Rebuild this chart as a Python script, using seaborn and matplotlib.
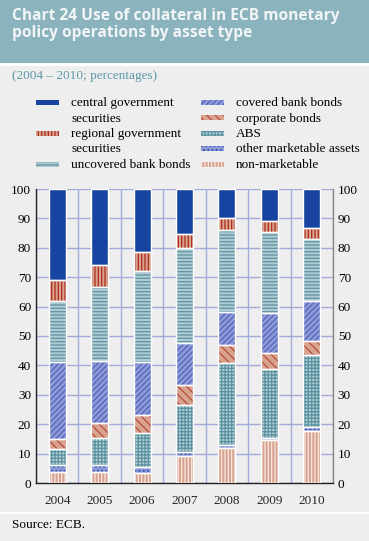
import matplotlib
matplotlib.use("Agg")
import numpy as np
import pandas as pd
import matplotlib.pyplot as plt
from matplotlib.patches import Rectangle
import seaborn as sns

# ---------------------------------------------------------------------------
# DATA (percent of collateral, bottom segment first)
# ---------------------------------------------------------------------------
YEARS = ["2004", "2005", "2006", "2007", "2008", "2009", "2010"]

NON_MARKETABLE = [3.6, 3.6, 3.4, 9.3, 11.9, 14.5, 17.8]
OTHER_MARKETABLE = [2.4, 2.5, 2.0, 1.4, 0.9, 0.8, 1.3]
ABS = [5.6, 9.2, 11.6, 15.9, 28.0, 23.5, 24.6]
CORPORATE = [3.4, 5.1, 6.2, 6.9, 6.3, 5.4, 4.7]
COVERED = [26.2, 21.0, 18.0, 14.1, 11.1, 13.6, 13.6]
UNCOVERED = [20.6, 25.3, 30.8, 32.3, 27.7, 27.5, 21.1]
REGIONAL = [7.4, 7.3, 6.6, 4.8, 4.1, 3.7, 3.8]
CENTRAL = [30.8, 26.0, 21.4, 15.3, 10.0, 11.0, 13.1]

SERIES = [
    ("non-marketable", NON_MARKETABLE),
    ("other marketable assets", OTHER_MARKETABLE),
    ("ABS", ABS),
    ("corporate bonds", CORPORATE),
    ("covered bank bonds", COVERED),
    ("uncovered bank bonds", UNCOVERED),
    ("regional government\nsecurities", REGIONAL),
    ("central government\nsecurities", CENTRAL),
]

# ---------------------------------------------------------------------------
# STYLE
# ---------------------------------------------------------------------------
SALMON = "#D8A28E"
LAVENDER = "#8E9BD6"
STYLE = {
    "non-marketable": (SALMON, "|||||", "#F6E8E2"),
    "other marketable assets": (LAVENDER, "....", "#2F4FB0"),
    "ABS": ("#B3CFD6", "+++++", "#5A919E"),
    "corporate bonds": (SALMON, "\\\\\\\\", "#B4503A"),
    "covered bank bonds": (LAVENDER, "//////", "#5264BE"),
    "uncovered bank bonds": ("#AFCAD2", "-----", "#5F94A1"),
    "regional government\nsecurities": (SALMON, "|||||", "#AE2B1C"),
    "central government\nsecurities": ("#1744A0", None, "#1744A0"),
}

BG = "#EEEEEE"
HEADER = "#8AB3BD"
GRID = "#A3AADC"
W, H = 369, 541

sns.set_style("white")
plt.rcParams["font.family"] = ["Liberation Serif", "DejaVu Serif"]
plt.rcParams["hatch.linewidth"] = 0.9


def px(x, y):
    return x / W, 1 - y / H


fig = plt.figure(figsize=(W / 100, H / 100), dpi=100, facecolor=BG)

# header band + separators
fig.add_artist(Rectangle(px(0, 63), 1, 63 / H, transform=fig.transFigure,
                         facecolor=HEADER, edgecolor="none"))
fig.add_artist(Rectangle(px(0, 66), 1, 3 / H, transform=fig.transFigure,
                         facecolor="white", edgecolor="none"))
fig.add_artist(Rectangle(px(0, 514), 1, 2.5 / H, transform=fig.transFigure,
                         facecolor="white", edgecolor="none"))

for i, line in enumerate(["Chart 24 Use of collateral in ECB monetary",
                          "policy operations by asset type"]):
    fig.text(*px(12, 20 + 17 * i), line, family=["Open Sans", "DejaVu Sans"],
             fontweight="bold", fontsize=11.2, color="#F2F5F6", va="baseline")

fig.text(*px(12, 79), "(2004 \u2013 2010; percentages)", fontsize=9.5,
         color="#5B98A8", va="baseline")
fig.text(*px(12, 528), "Source: ECB.", fontsize=9.5, color="black", va="baseline")

# ---------------------------------------------------------------------------
# LEGEND (drawn by hand to match the two-column layout)
# ---------------------------------------------------------------------------
legend_rows = [
    ("central government\nsecurities", 36, 106),
    ("regional government\nsecurities", 36, 137),
    ("uncovered bank bonds", 36, 168),
    ("covered bank bonds", 201, 106),
    ("corporate bonds", 201, 121.5),
    ("ABS", 201, 137),
    ("other marketable assets", 201, 152.5),
    ("non-marketable", 201, 168),
]
for name, x0, base in legend_rows:
    face, hatch, hc = STYLE[name]
    fig.add_artist(Rectangle(px(x0, base - 1.5), 23 / W, 5 / H,
                             transform=fig.transFigure, facecolor=face,
                             edgecolor="none", linewidth=0))
    if hatch:
        fig.add_artist(Rectangle(px(x0, base - 1.5), 23 / W, 5 / H,
                                 transform=fig.transFigure, facecolor="none",
                                 edgecolor=hc, hatch=hatch, linewidth=0))
    for j, part in enumerate(name.split("\n")):
        fig.text(*px(x0 + 35, base + 15.5 * j), part, fontsize=9.5,
                 color="black", va="baseline")

# ---------------------------------------------------------------------------
# BARS
# ---------------------------------------------------------------------------
ax = fig.add_axes([36 / W, 1 - 483 / H, 297 / W, 294 / H], facecolor=BG)

bottom = np.zeros(len(YEARS))
for name, values in SERIES:
    face, hatch, hc = STYLE[name]
    df = pd.DataFrame({"year": YEARS, "share": values})
    sns.barplot(data=df, x="year", y="share", order=YEARS, ax=ax,
                color=face, saturation=1, width=0.4, errorbar=None,
                bottom=bottom, edgecolor=hc, linewidth=0, hatch=hatch,
                zorder=3)
    sns.barplot(data=df, x="year", y="share", order=YEARS, ax=ax,
                color=face, saturation=1, width=0.4, errorbar=None,
                bottom=bottom, facecolor="none", edgecolor="white",
                linewidth=1.0, zorder=4)
    bottom = bottom + np.array(values)

# ---------------------------------------------------------------------------
# AXES
# ---------------------------------------------------------------------------
ax.set_xlim(-0.5, len(YEARS) - 0.5)
ax.set_ylim(0, 100)
ax.set_yticks(np.arange(0, 101, 10))
ax.set_xticks(np.arange(-0.5, len(YEARS), 1.0), minor=True)
ax.set_xlabel("")
ax.set_ylabel("")

ax.set_axisbelow(True)
ax.yaxis.grid(True, color=GRID, linewidth=1.0, zorder=0)
ax.xaxis.grid(True, which="minor", color=GRID, linewidth=1.0, zorder=0)
ax.xaxis.grid(False, which="major")

ax.tick_params(axis="y", length=0, pad=3.5, labelsize=9.5, labelright=True,
               labelcolor="black")
ax.tick_params(axis="x", which="major", length=0, pad=8.5, labelsize=9.5)
ax.tick_params(axis="x", which="minor", length=3, width=1, color="black",
               direction="out")

for side in ["left", "bottom"]:
    ax.spines[side].set_color("#222222")
    ax.spines[side].set_linewidth(1.0)
ax.spines["right"].set_color("#888888")
ax.spines["right"].set_linewidth(1.0)
ax.spines["top"].set_visible(False)

fig.savefig("out.png", dpi=100, facecolor=BG)
plt.close(fig)
